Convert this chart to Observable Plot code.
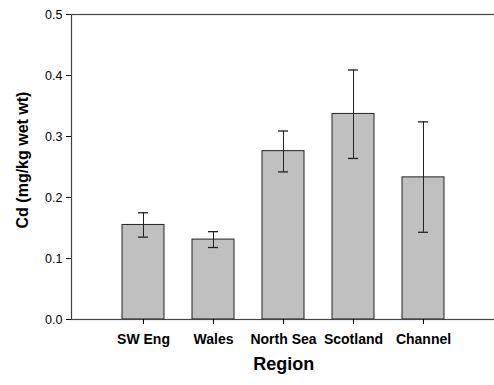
<!DOCTYPE html>
<html>
<head>
<meta charset="utf-8">
<script src="https://cdn.jsdelivr.net/npm/d3@7"></script>
<script src="https://cdn.jsdelivr.net/npm/@observablehq/plot@0.6"></script>
<style>
  html, body { margin: 0; padding: 0; background: #fff; overflow: hidden; }
  #chart { width: 494px; height: 385px; overflow: hidden; }
  #chart svg { overflow: hidden; font-family: "Liberation Sans", Arial, sans-serif; }
</style>
</head>
<body>
<div id="chart"></div>
<script>
const regions = ["SW Eng", "Wales", "North Sea", "Scotland", "Channel"];
const means   = [0.155, 0.131, 0.276, 0.337, 0.233];
const errLow  = [0.135, 0.118, 0.242, 0.264, 0.143];
const errHigh = [0.175, 0.144, 0.309, 0.409, 0.324];
const yTicks  = [0.0, 0.1, 0.2, 0.3, 0.4, 0.5];

const data = regions.map((r, i) => ({region: r, mean: means[i], lo: errLow[i], hi: errHigh[i]}));

const chart = Plot.plot({
  width: 494,
  height: 385,
  marginLeft: 71,
  marginRight: -1.5,
  marginTop: 14,
  marginBottom: 66,
  style: {fontFamily: "Liberation Sans, Arial, sans-serif", background: "#fff", color: "#000", overflow: "hidden"},
  x: {domain: regions, paddingInner: 0.4, paddingOuter: 0.7, label: null},
  y: {domain: [0, 0.5], label: null},
  marks: [
    Plot.barY(data, {x: "region", y: "mean", fill: "#c0c0c0", stroke: "#222", strokeWidth: 1}),
    Plot.ruleX(data, {x: "region", y1: "lo", y2: "hi", stroke: "#222", strokeWidth: 1}),
    Plot.tickY(data, {x: "region", y: "lo", stroke: "#222", strokeWidth: 1.3, insetLeft: 16, insetRight: 16}),
    Plot.tickY(data, {x: "region", y: "hi", stroke: "#222", strokeWidth: 1.3, insetLeft: 16, insetRight: 16}),
    Plot.frame({stroke: "#444", strokeWidth: 1.2}),
    Plot.axisY({ticks: yTicks, tickFormat: d3.format(".1f"), tickSize: 5, tickPadding: 4, fontSize: 12.5, label: null}),
    Plot.axisX({tickSize: 5, tickPadding: 10, fontSize: 14, fontWeight: "bold", label: null}),
    Plot.text(["Region"], {frameAnchor: "bottom", dy: 50, fontSize: 18, fontWeight: "bold", text: d => d}),
    Plot.text(["Cd (mg/kg wet wt)"], {frameAnchor: "left", textAnchor: "middle", dx: -49, dy: -7, rotate: -90, fontSize: 16, fontWeight: "bold", text: d => d})
  ]
});
document.getElementById("chart").appendChild(chart);
</script>
</body>
</html>
